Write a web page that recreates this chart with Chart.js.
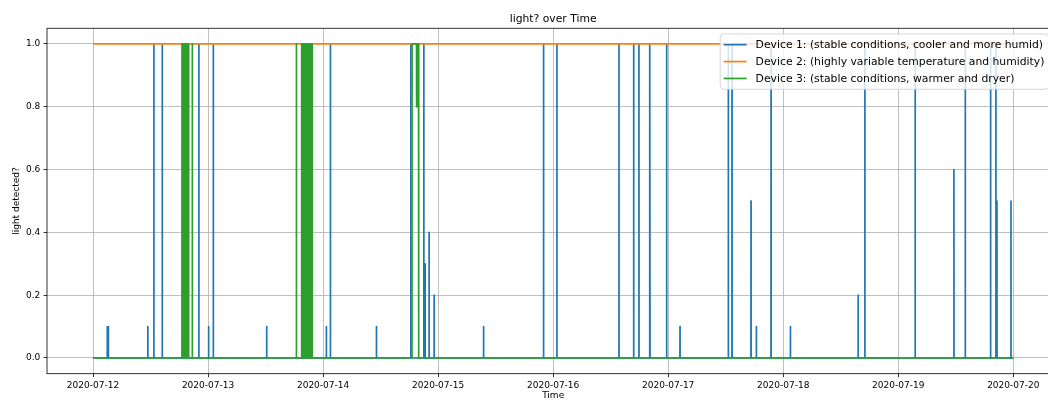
<!DOCTYPE html>
<html><head><meta charset="utf-8">
<script src="https://cdn.jsdelivr.net/npm/chart.js@4.4.1/dist/chart.umd.min.js"></script>
<style>
html,body{margin:0;padding:0;overflow:hidden;background:#fff;width:1048px;height:400px}
#wrap{position:absolute;left:0;top:0;width:1070px;height:405px}
</style>
</head><body><div id="wrap"><canvas id="c" width="1070" height="405"></canvas></div>
<script>
const chartTitle = 'light? over Time';
const xLabel = 'Time';
const yLabel = 'light detected?';
const seriesNames = [
  'Device 1: (stable conditions, cooler and more humid)',
  'Device 2: (highly variable temperature and humidity)',
  'Device 3: (stable conditions, warmer and dryer)'
];
const seriesColors = ['#1f77b4', '#ff7f0e', '#2ca02c'];
const xTickLabels = ['2020-07-12','2020-07-13','2020-07-14','2020-07-15','2020-07-16','2020-07-17','2020-07-18','2020-07-19','2020-07-20'];
const yTickLabels = ['0.0','0.2','0.4','0.6','0.8','1.0'];
const xRange = ['2020-07-11 14:24', '2020-07-20 09:36'];
const yRange = [-0.05, 1.05];

// Device 1 readings
const device1Times = [
  '2020-07-12 00:00',
  '2020-07-12 02:57','2020-07-12 02:58','2020-07-12 02:59',
  '2020-07-12 03:11','2020-07-12 03:12','2020-07-12 03:13',
  '2020-07-12 11:25','2020-07-12 11:26','2020-07-12 11:27',
  '2020-07-12 12:41','2020-07-12 12:42','2020-07-12 12:43',
  '2020-07-12 14:26','2020-07-12 14:27','2020-07-12 14:28',
  '2020-07-12 22:04','2020-07-12 22:05','2020-07-12 22:06',
  '2020-07-13 00:06','2020-07-13 00:07','2020-07-13 00:08',
  '2020-07-13 01:05','2020-07-13 01:06','2020-07-13 01:07',
  '2020-07-13 12:13','2020-07-13 12:14','2020-07-13 12:15',
  '2020-07-14 00:40','2020-07-14 00:41','2020-07-14 00:42',
  '2020-07-14 01:31','2020-07-14 01:32','2020-07-14 01:33',
  '2020-07-14 11:07','2020-07-14 11:08','2020-07-14 11:09',
  '2020-07-14 18:17','2020-07-14 18:18','2020-07-14 18:19',
  '2020-07-14 21:00','2020-07-14 21:01','2020-07-14 21:02',
  '2020-07-14 21:16','2020-07-14 21:17','2020-07-14 21:18',
  '2020-07-14 22:06','2020-07-14 22:07','2020-07-14 22:08',
  '2020-07-14 23:09','2020-07-14 23:10','2020-07-14 23:11',
  '2020-07-15 09:28','2020-07-15 09:29','2020-07-15 09:30',
  '2020-07-15 21:59','2020-07-15 22:00','2020-07-15 22:01',
  '2020-07-16 00:46','2020-07-16 00:47','2020-07-16 00:48',
  '2020-07-16 13:43','2020-07-16 13:44','2020-07-16 13:45',
  '2020-07-16 16:47','2020-07-16 16:48','2020-07-16 16:49',
  '2020-07-16 17:53','2020-07-16 17:54','2020-07-16 17:55',
  '2020-07-16 20:05','2020-07-16 20:06','2020-07-16 20:07',
  '2020-07-16 20:11','2020-07-16 20:12','2020-07-16 20:13',
  '2020-07-16 23:40','2020-07-16 23:41','2020-07-16 23:42',
  '2020-07-17 02:27','2020-07-17 02:28','2020-07-17 02:29',
  '2020-07-17 12:32','2020-07-17 12:33','2020-07-17 12:34',
  '2020-07-17 13:18','2020-07-17 13:19','2020-07-17 13:20',
  '2020-07-17 17:16','2020-07-17 17:17','2020-07-17 17:18',
  '2020-07-17 18:23','2020-07-17 18:24','2020-07-17 18:25',
  '2020-07-17 21:27','2020-07-17 21:28','2020-07-17 21:29',
  '2020-07-18 01:29','2020-07-18 01:30','2020-07-18 01:31',
  '2020-07-18 15:37','2020-07-18 15:38','2020-07-18 15:39',
  '2020-07-18 17:01','2020-07-18 17:02','2020-07-18 17:03',
  '2020-07-19 03:31','2020-07-19 03:32','2020-07-19 03:33',
  '2020-07-19 11:36','2020-07-19 11:37','2020-07-19 11:38',
  '2020-07-19 13:58','2020-07-19 13:59','2020-07-19 14:00',
  '2020-07-19 19:15','2020-07-19 19:16','2020-07-19 19:17',
  '2020-07-19 20:22','2020-07-19 20:23','2020-07-19 20:24',
  '2020-07-19 20:35','2020-07-19 20:36','2020-07-19 20:37',
  '2020-07-19 23:30','2020-07-19 23:31','2020-07-19 23:32',
  '2020-07-20 00:00'
];
const device1Values = [
  0,
  0,0.1,0,
  0,0.1,0,
  0,0.1,0,
  0,1,0,
  0,1,0,
  0,1,0,
  0,0.1,0,
  0,1,0,
  0,0.1,0,
  0,0.1,0,
  0,1,0,
  0,0.1,0,
  0,1,0,
  0,1,0,
  0,0.3,0,
  0,0.4,0,
  0,0.2,0,
  0,0.1,0,
  0,1,0,
  0,1,0,
  0,1,0,
  0,1,0,
  0,1,0,
  0,0.7,0,
  0,1,0,
  0,1,0,
  0,0.1,0,
  0,1,0,
  0,1,0,
  0,0.5,0,
  0,0.1,0,
  0,1,0,
  0,0.1,0,
  0,0.2,0,
  0,1,0,
  0,1,0,
  0,0.6,0,
  0,1,0,
  0,1,0,
  0,1,0,
  0,0.5,0,
  0,0.5,0,
  0
];

// Device 2 readings
const device2Times = ['2020-07-12 00:00', '2020-07-20 00:00'];
const device2Values = [1, 1];

// Device 3 readings
const device3Times = [
  '2020-07-12 00:00',
  '2020-07-12 18:33','2020-07-12 18:34','2020-07-12 18:37','2020-07-12 18:40','2020-07-12 18:43',
  '2020-07-12 18:46','2020-07-12 18:49','2020-07-12 18:52','2020-07-12 18:55','2020-07-12 18:58',
  '2020-07-12 19:01','2020-07-12 19:04','2020-07-12 19:07','2020-07-12 19:10','2020-07-12 19:13',
  '2020-07-12 19:16','2020-07-12 19:19','2020-07-12 19:22','2020-07-12 19:25','2020-07-12 19:28',
  '2020-07-12 19:31','2020-07-12 19:34','2020-07-12 19:37','2020-07-12 19:40','2020-07-12 19:43',
  '2020-07-12 19:46','2020-07-12 19:49','2020-07-12 19:52','2020-07-12 19:55','2020-07-12 19:58',
  '2020-07-12 20:00',
  '2020-07-12 20:42','2020-07-12 20:43','2020-07-12 20:44',
  '2020-07-13 18:25','2020-07-13 18:26','2020-07-13 18:27',
  '2020-07-13 19:31','2020-07-13 19:32','2020-07-13 19:38','2020-07-13 19:44','2020-07-13 19:50',
  '2020-07-13 19:56','2020-07-13 20:02','2020-07-13 20:08','2020-07-13 20:14','2020-07-13 20:20',
  '2020-07-13 20:26','2020-07-13 20:32','2020-07-13 20:38','2020-07-13 20:44','2020-07-13 20:50',
  '2020-07-13 20:56','2020-07-13 21:02','2020-07-13 21:08','2020-07-13 21:14','2020-07-13 21:20',
  '2020-07-13 21:26','2020-07-13 21:32','2020-07-13 21:38','2020-07-13 21:43','2020-07-13 21:44',
  '2020-07-14 18:33','2020-07-14 18:34','2020-07-14 19:30','2020-07-14 19:31','2020-07-14 19:40',
  '2020-07-14 19:46','2020-07-14 19:55','2020-07-14 19:57',
  '2020-07-20 00:00'
];
const device3Values = [
  0,
  0,1,0,1,0.4,
  1,0,1,0.4,0,
  1,0,0.4,1,0,
  0.4,1,0,1,0.4,
  0,1,0,0.4,1,
  0,1,0.4,1,0,
  0,
  0,1,0,
  0,1,0,
  0,1,0,1,0,
  1,0,1,0,1,
  0,1,0,1,0,
  1,0,1,0,1,
  0,1,0,1,0,
  0,1,1,0.8,1,
  0.8,1,0,
  0
];

const toMs = s => Date.parse(s.replace(' ', 'T') + ':00Z');
const toPoints = (times, values) => times.map((t, i) => ({x: toMs(t), y: values[i]}));

const FONT = '"DejaVu Sans", "Liberation Sans", sans-serif';

const framePlugin = {
  id: 'frame',
  afterDatasetsDraw(chart) {
    const {ctx, chartArea: a} = chart;
    ctx.save();
    ctx.strokeStyle = '#000';
    ctx.lineWidth = 0.8;
    ctx.strokeRect(a.left, a.top, a.right - a.left, a.bottom - a.top);
    ctx.restore();
  }
};

const legendPlugin = {
  id: 'mplLegend',
  afterDraw(chart) {
    const {ctx, chartArea: a} = chart;
    const fs = 10.8;
    ctx.save();
    ctx.font = fs + 'px ' + FONT;
    const sets = chart.data.datasets;
    const tw = Math.max(...sets.map(d => ctx.measureText(d.label).width));
    const pad = 3.4, hl = 23, htp = 9, step = 16.9;
    const w = pad + hl + htp + tw + pad + 1;
    const right = a.right - 10.5;
    const left = right - w;
    const top = a.top + 5.7;
    const h = 55.3;
    ctx.beginPath();
    if (ctx.roundRect) ctx.roundRect(left, top, w, h, 3.5); else ctx.rect(left, top, w, h);
    ctx.fillStyle = 'rgba(255,255,255,0.8)';
    ctx.fill();
    ctx.strokeStyle = 'rgba(204,204,204,0.8)';
    ctx.lineWidth = 1;
    ctx.stroke();
    sets.forEach((d, i) => {
      const cy = top + 10.7 + i * step;
      ctx.beginPath();
      ctx.strokeStyle = d.borderColor;
      ctx.lineWidth = d.borderWidth;
      ctx.moveTo(left + pad, cy);
      ctx.lineTo(left + pad + hl, cy);
      ctx.stroke();
      ctx.fillStyle = '#000';
      ctx.textBaseline = 'middle';
      ctx.textAlign = 'left';
      ctx.fillText(d.label, left + pad + hl + htp, cy + 0.5);
    });
    ctx.restore();
  }
};

const lineBase = {pointRadius: 0, borderWidth: 1.7, tension: 0, fill: false, borderJoinStyle: 'round', borderCapStyle: 'butt'};

new Chart(document.getElementById('c'), {
  type: 'line',
  data: {
    datasets: [
      Object.assign({label: seriesNames[0], data: toPoints(device1Times, device1Values), borderColor: seriesColors[0], backgroundColor: seriesColors[0], order: 2}, lineBase),
      Object.assign({label: seriesNames[1], data: toPoints(device2Times, device2Values), borderColor: seriesColors[1], backgroundColor: seriesColors[1], order: 1}, lineBase),
      Object.assign({label: seriesNames[2], data: toPoints(device3Times, device3Values), borderColor: seriesColors[2], backgroundColor: seriesColors[2], order: 0}, lineBase)
    ]
  },
  options: {
    responsive: false,
    animation: false,
    devicePixelRatio: 1,
    layout: {padding: {left: 0, right: 10.7, top: 0, bottom: 0}},
    plugins: {
      legend: {display: false},
      tooltip: {enabled: false},
      title: {
        display: true, text: chartTitle, fullSize: false, color: '#000',
        font: {family: FONT, size: 10.8, weight: 'normal'},
        padding: {top: 12.8, bottom: 2.5}
      }
    },
    scales: {
      x: {
        type: 'linear',
        min: toMs(xRange[0]), max: toMs(xRange[1]),
        afterBuildTicks: s => { s.ticks = xTickLabels.map(t => ({value: toMs(t + ' 00:00')})); },
        afterFit: s => { s.height = 31.3; },
        ticks: {autoSkip: false, maxRotation: 0, padding: 3.15, color: '#000',
          font: {family: FONT, size: 9}, callback: (v, i) => xTickLabels[i]},
        grid: {color: '#b0b0b0', lineWidth: 0.8, tickLength: 3.5, tickColor: '#000', tickWidth: 0.8},
        border: {display: false},
        title: {display: true, text: xLabel, color: '#000', font: {family: FONT, size: 9}, padding: {top: 0, bottom: 3.6}}
      },
      y: {
        type: 'linear',
        min: yRange[0], max: yRange[1],
        afterBuildTicks: s => { s.ticks = yTickLabels.map(t => ({value: parseFloat(t)})); },
        afterFit: s => { s.width = 47; },
        ticks: {autoSkip: false, padding: 3.15, color: '#000',
          font: {family: FONT, size: 9}, callback: (v, i) => yTickLabels[i]},
        grid: {color: '#b0b0b0', lineWidth: 0.8, tickLength: 3.5, tickColor: '#000', tickWidth: 0.8},
        border: {display: false},
        title: {display: true, text: yLabel, color: '#000', font: {family: FONT, size: 9}, padding: {top: 11, bottom: 0}}
      }
    }
  },
  plugins: [framePlugin, legendPlugin]
});
</script>
</body></html>
